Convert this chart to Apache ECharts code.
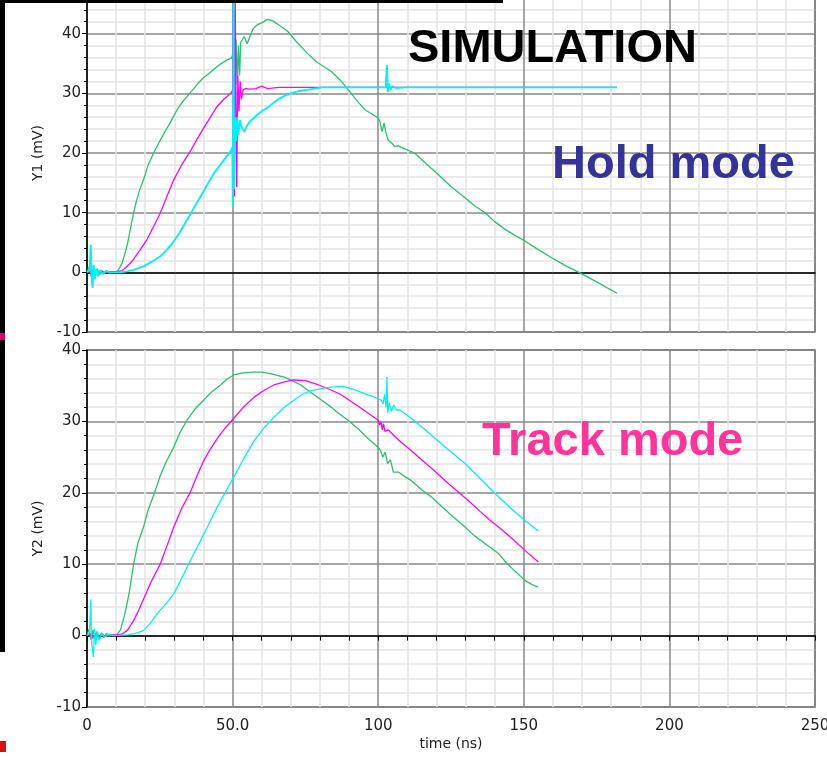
<!DOCTYPE html>
<html>
<head>
<meta charset="utf-8">
<script src="https://cdn.jsdelivr.net/npm/echarts@6/dist/echarts.min.js"></script>
<style>
  html, body { margin: 0; padding: 0; background: #fff; }
  #chart { width: 827px; height: 757px; }
</style>
</head>
<body>
<div id="chart"></div>
<script>
// tick labels of the time axis (ns)
var xTickLabels = ['0', '50.0', '100', '150', '200', '250'];

// Hold mode (upper plot), [time ns, mV]
var holdGreen = [
  [0,0],[0.7,0.9],[1.4,-0.6],[2.1,0.8],[2.8,-0.7],[3.5,0.6],[4.3,-0.5],[5,0.4],[5.8,-0.3],[6.7,0.3],[7.6,-0.1],[8.5,0.1],
  [10,0.1],[10.8,0.4],[12,1.5],[13,3.1],[14,5],[15,7.5],[16,10],[17,12],[18,13.7],[19.4,15.5],[21,18],[22.9,20],[25,22],
  [27,23.8],[28.5,25],[31,27.3],[33,28.7],[34.4,29.5],[36,30.4],[38,31.6],[40,32.6],[41.3,33.1],[43,33.8],[44.7,34.5],
  [46.5,35.1],[48.2,35.6],[49.6,35.9],[50,36.5],[50.1,45.5],[50.3,27],[50.5,44],[50.8,30],[51.2,39],[51.6,31.5],[52,38],
  [52.4,33],[52.8,38.6],[53.4,38.8],[54,39.5],[55,38.3],[56,39.6],[57,40.8],[58.5,41.5],[60,41.8],[62,42.4],[64,42.1],
  [66,41.4],[68.9,40.4],[72,38.6],[75.7,36.7],[79,35.2],[83.8,33.7],[87,32.2],[90.7,30],[93,28.6],[95.3,27.3],[98,26.5],
  [99.9,25.9],[100.6,25.3],[101.3,23.6],[102,25],[102.7,23.3],[103.4,22.2],[104,22.5],[104.8,21.6],[105.6,21.1],[107,21.2],
  [109.5,20.6],[112.5,20],[116,18.4],[120.6,16.4],[125,14.4],[129.8,12.5],[133,11.2],[136.7,10],[140,8.5],[143.6,7.2],
  [147,6.2],[150.5,5.2],[155,3.8],[159.7,2.4],[164,1.2],[168.9,0],[172,-0.8],[175.8,-1.8],[179,-2.7],[182,-3.5]
];
var holdMagenta = [
  [0,0],[1,0.3],[2,-0.4],[3,0.3],[4,-0.3],[5,0.2],[6.5,-0.1],[8,0.1],[10.5,0.1],[12,0.3],[13.4,0.8],[15,1.6],[16,2.2],
  [18,3.6],[20.6,5.5],[23,7.8],[25.2,10],[27.5,12.8],[29.8,15.5],[32.5,18],[35.5,20.3],[38,22.5],[40.1,24.2],[42.5,26.1],
  [44.7,27.8],[47,29],[49.4,30],[50,30.5],[50.3,46],[50.6,12.7],[50.9,46],[51.4,14.3],[51.8,33],[52.2,27],[52.6,32],
  [53,29],[53.6,30.6],[54.5,30.8],[56,30.7],[58,30.8],[60,31.2],[62,30.8],[66,31],[72,31],[81,31],[90,31],
  [100,31],[110,31],[120,31],[140,31],[160,31],[182,31]
];
var holdCyan = [
  [0,0],[0.9,0.4],[1.3,4.6],[1.6,-1],[1.9,-2.6],[2.3,1.2],[2.7,-1.2],[3.2,0.6],[3.8,-0.6],[4.5,0.4],[5.3,-0.3],[6.5,0.2],
  [8,0],[11.7,0],[14,0.2],[16,0.4],[19.4,1],[22,1.7],[25.2,2.7],[27.5,3.8],[29.8,5.2],[32,6.8],[34.4,8.8],[36.7,10.8],
  [39,12.7],[41.3,14.7],[43.6,16.6],[46.5,18.5],[49.4,20.3],[49.9,21],[50.1,11],[50.3,46],[50.5,14],[50.8,26],[51.2,22],
  [51.6,26],[52,23],[52.5,25.5],[53,24.5],[54,23.6],[55,24.6],[56,25.3],[58,26.2],[60,27],[62,27.6],[64,28.4],[66,29.1],
  [68,29.6],[70,30],[73,30.4],[77,30.7],[81,31],[90,31],[100,31],[102.6,31],[103,34.8],[103.3,30.2],[103.7,31.6],
  [104.2,30.6],[104.8,31.2],[106,30.9],[110,31],[130,31],[150,31],[182,31]
];

// Track mode (lower plot), [time ns, mV]
var trackGreen = [
  [0,0],[0.7,0.9],[1.4,-0.6],[2.1,0.8],[2.8,-0.7],[3.5,0.6],[4.3,-0.5],[5,0.4],[5.8,-0.3],[6.7,0.3],[7.6,-0.1],[8.5,0.1],
  [10.2,0.1],[11.5,0.8],[13,3],[14.5,6],[16,10],[17.5,13],[19.4,15.2],[21,17.6],[23.1,19.9],[25,22.2],[26.9,24.1],
  [29.8,26.4],[32,28.5],[34.4,30.2],[37,31.7],[40.1,33],[43,34.2],[45.9,35.1],[48,35.9],[50.4,36.5],[53.5,36.8],
  [57.4,36.9],[60,36.9],[63,36.7],[67.7,36.2],[70.5,35.7],[73.4,35.1],[77,34],[80.5,33],[83.8,32],[86.5,31.1],[89.5,30.2],
  [93,29],[96.5,27.6],[99.9,26.4],[100.8,25.9],[101.6,25],[102.4,25.7],[103.2,24.1],[104.2,24.6],[105.2,22.9],[107,22.9],
  [109,22.3],[111.4,21.7],[115,20.4],[118.3,19.4],[122,18],[125.8,16.6],[129.8,15.2],[133,14],[137,12.8],[141.3,11.5],
  [144,10.2],[147,9],[150.5,7.7],[153,7.1],[155,6.8]
];
var trackMagenta = [
  [0,0],[1,0.3],[2,-0.4],[3,0.3],[4,-0.3],[5,0.2],[6.5,-0.1],[8,0.1],[10,0.1],[12,0.2],[14,0.8],[16,2.1],[17.7,3.5],
  [19.4,5.1],[22,7.5],[25.2,10.05],[27.5,12.6],[29.8,15.2],[32.5,17.8],[35.5,20.1],[38,22.6],[40.1,24.5],[42.5,26.2],
  [44.7,27.6],[47.3,29],[49.9,30.2],[53.5,31.9],[57.4,33.4],[61,34.4],[64.2,35.1],[67.5,35.5],[71,35.8],[75,35.7],
  [79,35.2],[83.8,34.4],[87,33.8],[90,33],[95,31.6],[99.9,30.2],[100.5,29.5],[101,30],[101.4,28.8],[101.8,29.7],
  [102.3,28.6],[103.5,28.8],[107,27.4],[111.4,25.9],[115,24.6],[119,23.2],[123,21.7],[127.5,20.1],[131,18.9],[135,17.4],
  [138,16.3],[141.3,15.2],[144,14.3],[147,13.2],[150.5,11.9],[153,11],[155,10.3]
];
var trackCyan = [
  [0,0],[0.9,0.4],[1.3,5.1],[1.6,-1],[2.2,-3],[2.6,1],[3,-1.3],[3.5,0.6],[4.2,-0.7],[5,0.3],[6,-0.2],[7.5,0.2],[9,0],
  [14,0.1],[16.5,0.3],[19.4,0.7],[21.5,1.6],[24,3],[27,4.4],[29.8,5.85],[32,7.6],[34.4,9.6],[36.7,11.5],[39,13.3],
  [41.8,15.6],[44.7,18],[47.5,20.1],[50.4,22.2],[54,24.9],[57.4,27.3],[60.8,29.1],[64.2,30.6],[67.6,31.9],[71.1,33],
  [74,33.8],[77,34.3],[80.5,34.6],[83.8,34.8],[88,34.9],[91.5,34.5],[95.3,33.9],[98,33.5],[101,33],[101.7,32.4],
  [102.2,33.8],[102.7,32],[103,36.2],[103.3,31.2],[103.8,32.6],[104.5,31.4],[105.3,32.3],[106.2,31.6],[107.5,31.6],
  [109.5,31],[111.4,30.4],[115,29.2],[119,27.8],[122.5,26.6],[126,25.4],[129.8,24.1],[133,22.8],[136.5,21.4],
  [140.1,19.9],[143.5,18.6],[147,17.3],[150.5,16.1],[153,15.3],[155,14.6]
];

var GREEN = '#26c46c', MAGENTA = '#ff00ff', CYAN = '#00f2f2';
var FONT = 'DejaVu Sans';

var myChart = echarts.init(document.getElementById('chart'));

function xAxisOf(idx, withLabels) {
  return {
    type: 'value', gridIndex: idx, min: 0, max: 250, interval: 50,
    axisLine: { lineStyle: { color: '#000', width: 1.5 } },
    axisTick: { show: withLabels, length: 5, lineStyle: { color: '#000' } },
    minorTick: { show: withLabels, splitNumber: 5, length: 5, lineStyle: { color: '#000' } },
    axisLabel: {
      show: withLabels, margin: 12, fontSize: 15, color: '#222', fontFamily: FONT,
      formatter: function (v) { return xTickLabels[Math.round(v / 50)]; }
    },
    splitLine: { lineStyle: { color: '#888', width: 1.5 } },
    minorSplitLine: { show: true, lineStyle: { color: '#e3e3e3', width: 1.5 } },
    name: withLabels ? 'time (ns)' : '',
    nameLocation: 'middle', nameGap: 30,
    nameTextStyle: { fontSize: 14, color: '#222', fontFamily: FONT }
  };
}

function yAxisOf(idx, max, name) {
  return {
    type: 'value', gridIndex: idx, min: -10, max: max, interval: 10,
    axisLine: { show: true, lineStyle: { color: '#000', width: 1.5 } },
    axisTick: { show: true, length: 5, lineStyle: { color: '#000' } },
    minorTick: { show: true, splitNumber: 5, length: 3, lineStyle: { color: '#000' } },
    axisLabel: { margin: 6, fontSize: 15, color: '#222', fontFamily: FONT },
    splitLine: { lineStyle: { color: '#888', width: 1.5 } },
    minorSplitLine: { show: true, lineStyle: { color: '#e3e3e3', width: 1.5 } },
    name: name, nameLocation: 'middle', nameGap: 38,
    nameTextStyle: { fontSize: 14, color: '#222', fontFamily: FONT }
  };
}

function lineOf(data, color, idx, width) {
  return {
    type: 'line', data: data, xAxisIndex: idx, yAxisIndex: idx,
    showSymbol: false, symbol: 'none', smooth: false,
    lineStyle: { color: color, width: width || 1.3 },
    itemStyle: { color: color }
  };
}

var option = {
  animation: false,
  backgroundColor: '#fff',
  grid: [
    { left: 87, right: 12, top: -26, height: 358, outerBoundsMode: 'none', show: true,
      backgroundColor: '#fff', borderColor: '#555', borderWidth: 1.5 },
    { left: 87, right: 12, top: 350, height: 357, outerBoundsMode: 'none', show: true,
      backgroundColor: '#fff', borderColor: '#555', borderWidth: 1.5 }
  ],
  xAxis: [xAxisOf(0, false), xAxisOf(1, true)],
  yAxis: [yAxisOf(0, 50, 'Y1 (mV)'), yAxisOf(1, 40, 'Y2 (mV)')],
  series: [
    lineOf(holdGreen, GREEN, 0),
    lineOf(holdMagenta, MAGENTA, 0),
    // cyan a bit wider so it hides the magenta under the common 31 mV level
    lineOf(holdCyan, CYAN, 0, 1.9),
    lineOf(trackGreen, GREEN, 1),
    lineOf(trackMagenta, MAGENTA, 1),
    lineOf(trackCyan, CYAN, 1)
  ],
  graphic: [
    // slide leftovers around the plots
    { type: 'rect', shape: { x: 0, y: 0, width: 5, height: 652 }, style: { fill: '#000' }, z: 100 },
    { type: 'rect', shape: { x: 0, y: 0, width: 503, height: 3 }, style: { fill: '#000' }, z: 100 },
    { type: 'rect', shape: { x: 0, y: 333, width: 5, height: 7 }, style: { fill: '#e0006a' }, z: 101 },
    { type: 'rect', shape: { x: 0, y: 741, width: 6, height: 11 }, style: { fill: '#dd1111' }, z: 100 },
    // annotations
    { type: 'text', z: 100, style: { text: 'SIMULATION', x: 408, y: 49, verticalAlign: 'middle',
      font: 'bold 47px "Liberation Sans", Arial, sans-serif', fill: '#000' } },
    { type: 'text', z: 100, style: { text: 'Hold mode', x: 552, y: 165, verticalAlign: 'middle',
      font: 'bold 47px "Liberation Sans", Arial, sans-serif', fill: '#333399' } },
    { type: 'text', z: 100, style: { text: 'Track mode', x: 482, y: 442, verticalAlign: 'middle',
      font: 'bold 47px "Liberation Sans", Arial, sans-serif', fill: '#ff3399' } }
  ]
};

myChart.setOption(option);
</script>
</body>
</html>
